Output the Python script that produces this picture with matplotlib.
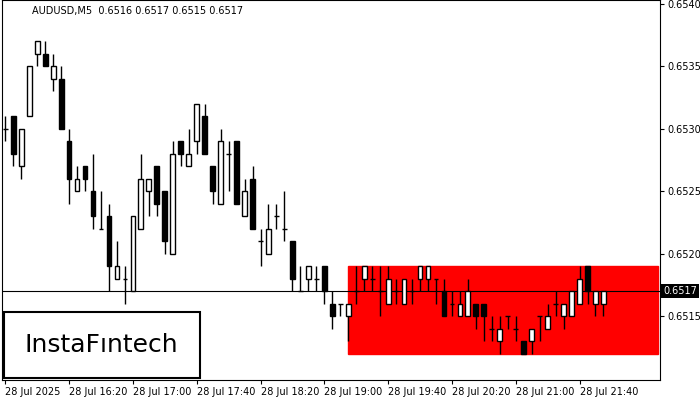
import matplotlib.pyplot as plt
from matplotlib.patches import Rectangle

# AUDUSD M5 candles, first bar at 28 Jul 15:40
opens = [.6530, .6531, .6527, .6531, .6536, .6536, .6534, .6534, .6529, .6525,
         .6527, .6525, .6522, .6523, .6518, .6518, .6517, .6522, .6525, .6527,
         .6525, .6520, .6529, .6527, .6529, .6531, .6527, .6524, .6528, .6529,
         .6523, .6526, .6521, .6520, .6523, .6522, .6521, .6517, .6518, .6518,
         .6519, .6516, .6516, .6515, .6517, .6518, .6518, .6517, .6516, .6517,
         .6516, .6517, .6518, .6518, .6518, .6517, .6516, .6515, .6515, .6516,
         .6516, .6514, .6513, .6515, .6514, .6513, .6513, .6515, .6514, .6516,
         .6515, .6515, .6516, .6519, .6516, .6516]
highs = [.6531, .6531, .6530, .6535, .6537, .6537, .6536, .6535, .6530, .6527,
         .6527, .6528, .6525, .6524, .6521, .6519, .6523, .6528, .6526, .6527,
         .6525, .6529, .6529, .6530, .6532, .6532, .6527, .6530, .6529, .6529,
         .6526, .6527, .6522, .6524, .6524, .6525, .6521, .6519, .6519, .6519,
         .6519, .6517, .6516, .6516, .6519, .6519, .6519, .6519, .6519, .6518,
         .6518, .6518, .6519, .6519, .6518, .6518, .6517, .6517, .6518, .6516,
         .6516, .6515, .6515, .6515, .6515, .6513, .6514, .6515, .6516, .6517,
         .6516, .6517, .6519, .6519, .6517, .6517]
lows = [.6529, .6527, .6526, .6531, .6535, .6535, .6533, .6530, .6524, .6525,
        .6525, .6522, .6522, .6517, .6518, .6516, .6517, .6522, .6523, .6523,
        .6520, .6520, .6527, .6527, .6528, .6528, .6524, .6524, .6525, .6524,
        .6523, .6522, .6519, .6520, .6522, .6521, .6517, .6517, .6517, .6517,
        .6516, .6514, .6515, .6513, .6516, .6517, .6517, .6515, .6516, .6516,
        .6516, .6516, .6517, .6517, .6516, .6515, .6515, .6515, .6515, .6514,
        .6513, .6513, .6512, .6514, .6513, .6512, .6512, .6513, .6514, .6515,
        .6514, .6515, .6516, .6516, .6515, .6515]
closes = [.6530, .6528, .6530, .6535, .6537, .6535, .6535, .6530, .6526, .6526,
          .6526, .6523, .6522, .6519, .6519, .6518, .6523, .6526, .6526, .6524,
          .6521, .6528, .6528, .6528, .6532, .6528, .6525, .6529, .6528, .6524,
          .6525, .6522, .6521, .6522, .6523, .6522, .6518, .6517, .6519, .6518,
          .6517, .6515, .6516, .6516, .6517, .6519, .6518, .6517, .6518, .6517,
          .6518, .6517, .6519, .6519, .6518, .6515, .6516, .6516, .6517, .6515,
          .6515, .6514, .6514, .6515, .6514, .6512, .6514, .6515, .6515, .6516,
          .6516, .6517, .6518, .6517, .6517, .6517]

time_labels = ["28 Jul 2025", "28 Jul 16:20", "28 Jul 17:00", "28 Jul 17:40",
               "28 Jul 18:20", "28 Jul 19:00", "28 Jul 19:40", "28 Jul 20:20",
               "28 Jul 21:00", "28 Jul 21:40"]
label_bars = [0, 8, 16, 24, 32, 40, 48, 56, 64, 72]
price_ticks = [0.6515, 0.6520, 0.6525, 0.6530, 0.6535, 0.6540]

zone_start, zone_end = 43, 81.8
zone_top, zone_bottom = 0.6519, 0.6512
last_price = closes[-1]

fig = plt.figure(figsize=(7, 4), dpi=100)
ax = fig.add_axes([0.003, 0.05, 0.94, 0.95])

ax.add_patch(Rectangle((zone_start, zone_bottom), zone_end - zone_start,
                       zone_top - zone_bottom, color="#ff0000", zorder=1))
ax.axhline(last_price, color="black", lw=0.8, zorder=2)

w = 0.6
for i in range(len(opens)):
    o, h, l, c = opens[i], highs[i], lows[i], closes[i]
    ax.vlines(i, l, h, color="black", lw=1, zorder=3)
    if o == c:
        ax.hlines(o, i - w / 2, i + w / 2, color="black", lw=1, zorder=4)
    else:
        face = "white" if c > o else "black"
        ax.add_patch(Rectangle((i - w / 2, min(o, c)), w, abs(c - o),
                               facecolor=face, edgecolor="black", lw=1, zorder=4))

ax.set_xlim(-0.4, 82.1)
ax.set_ylim(0.65099, 0.65403)
ax.yaxis.tick_right()
ax.set_yticks(price_ticks)
ax.set_yticklabels([f"{p:.4f}" for p in price_ticks], fontsize=7)
ax.set_xticks(label_bars)
ax.set_xticklabels(time_labels, fontsize=7, ha="left")
ax.tick_params(length=3, pad=2)
for s in ax.spines.values():
    s.set_linewidth(0.8)

ax.text(1.005, last_price, f"{last_price:.4f}", transform=ax.get_yaxis_transform(),
        fontsize=7, color="white", va="center", ha="left",
        bbox=dict(facecolor="black", edgecolor="none", pad=1.5))
ax.text(0.045, 0.985, "AUDUSD,M5  0.6516 0.6517 0.6515 0.6517", transform=ax.transAxes,
        fontsize=7, va="top")

# logo box
fig.patches.append(Rectangle((0.005, 0.055), 0.281, 0.165, transform=fig.transFigure,
                             facecolor="white", edgecolor="black", lw=1.5, zorder=10))
fig.text(0.145, 0.137, "InstaFıntech", fontsize=18, ha="center", va="center", zorder=11)

fig.savefig("out.png")
